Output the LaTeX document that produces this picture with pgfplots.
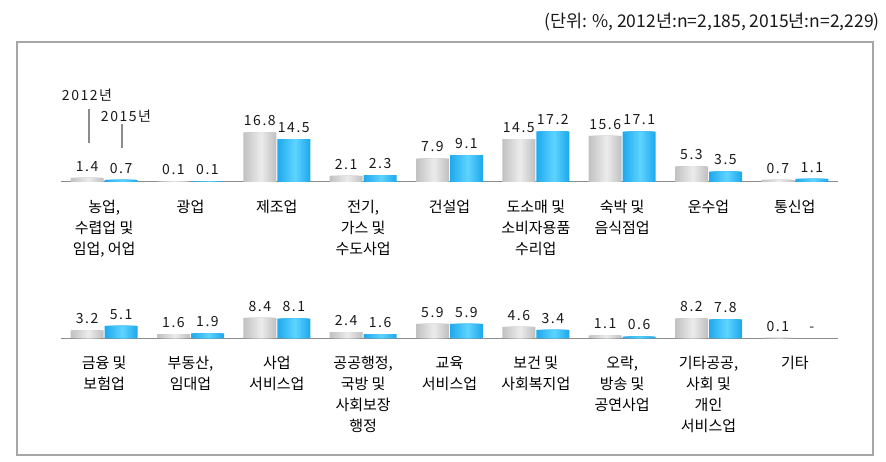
\documentclass[border=0pt]{standalone}
\usepackage{fontspec}
\setmainfont{Noto Sans CJK KR}
\newfontfamily\numfont[LetterSpace=11]{Noto Sans CJK KR}
\usepackage{pgfplots}
\usepackage{pgfplotstable}
\pgfplotsset{compat=1.18}

\definecolor{boxgray}{HTML}{A6A6A6}
\definecolor{axgray}{HTML}{8C8C8C}
\definecolor{gE}{HTML}{C2C2C2}
\definecolor{gM}{HTML}{EAEAEA}
\definecolor{bE}{HTML}{20AAEE}
\definecolor{bM}{HTML}{5CD2FF}
% nested bars: outer edge colour towards the light middle
\colorlet{g0}{gE}\colorlet{g1}{gM!10!gE}\colorlet{g2}{gM!20!gE}\colorlet{g3}{gM!30!gE}
\colorlet{g4}{gM!40!gE}\colorlet{g5}{gM!50!gE}\colorlet{g6}{gM!60!gE}\colorlet{g7}{gM!70!gE}
\colorlet{g8}{gM!80!gE}\colorlet{g9}{gM!90!gE}\colorlet{g10}{gM}
\colorlet{b0}{bE}\colorlet{b1}{bM!10!bE}\colorlet{b2}{bM!20!bE}\colorlet{b3}{bM!30!bE}
\colorlet{b4}{bM!40!bE}\colorlet{b5}{bM!50!bE}\colorlet{b6}{bM!60!bE}\colorlet{b7}{bM!70!bE}
\colorlet{b8}{bM!80!bE}\colorlet{b9}{bM!90!bE}\colorlet{b10}{bM}

% x  2012  2015  labels
\pgfplotstableread{
x a    b    la   lb
0 1.4  0.7  1.4  0.7
1 0.1  0.1  0.1  0.1
2 16.8 14.5 16.8 14.5
3 2.1  2.3  2.1  2.3
4 7.9  9.1  7.9  9.1
5 14.5 17.2 14.5 17.2
6 15.6 17.1 15.6 17.1
7 5.3  3.5  5.3  3.5
8 0.7  1.1  0.7  1.1
}\rowA
\pgfplotstableread{
x a    b    la   lb
0 3.2  5.1  3.2  5.1
1 1.6  1.9  1.6  1.9
2 8.4  8.1  8.4  8.1
3 2.4  1.6  2.4  1.6
4 5.9  5.9  5.9  5.9
5 4.6  3.4  4.6  3.4
6 1.1  0.6  1.1  0.6
7 8.2  7.8  8.2  7.8
8 0.1  0    0.1  -
}\rowB

\pgfplotsset{
  rowaxis/.style={
    scale only axis, width=777pt,
    ybar, bar width=33pt,
    xmin=-0.5, xmax=8.5, ymin=0,
    axis x line*=bottom, axis y line=none,
    x axis line style={-, axgray, line width=1pt},
    xtick={0,...,8}, major tick length=0pt,
    xticklabel style={align=center, font=\fontsize{15}{21}\selectfont, yshift=-15pt},
    clip=false,
  },
  vals/.style={draw=none, fill=none, bar width=33pt, point meta=explicit symbolic,
    nodes near coords,
    every node near coord/.append style={font=\numfont\fontsize{14}{16}\selectfont, yshift=3pt, text=black!90}},
  gb/.style={draw=none, forget plot, unbounded coords=discard, y filter/.expression={y==0 ? nan : y}},
}
% #1 table, #2 column, #3 colour prefix, #4 bar centre
\newcommand\gradbar[4]{%
  \addplot[gb, fill=#30, bar width=33pt, bar shift={#4}] table[x=x,y=#2]{#1};
  \addplot[gb, fill=#31, bar width=30pt, bar shift={#4+0.15pt}] table[x=x,y=#2]{#1};
  \addplot[gb, fill=#32, bar width=27pt, bar shift={#4+0.3pt}] table[x=x,y=#2]{#1};
  \addplot[gb, fill=#33, bar width=24pt, bar shift={#4+0.45pt}] table[x=x,y=#2]{#1};
  \addplot[gb, fill=#34, bar width=21pt, bar shift={#4+0.6pt}] table[x=x,y=#2]{#1};
  \addplot[gb, fill=#35, bar width=18pt, bar shift={#4+0.75pt}] table[x=x,y=#2]{#1};
  \addplot[gb, fill=#36, bar width=15pt, bar shift={#4+0.9pt}] table[x=x,y=#2]{#1};
  \addplot[gb, fill=#37, bar width=12pt, bar shift={#4+1.05pt}] table[x=x,y=#2]{#1};
  \addplot[gb, fill=#38, bar width=9pt, bar shift={#4+1.2pt}] table[x=x,y=#2]{#1};
  \addplot[gb, fill=#39, bar width=6pt, bar shift={#4+1.35pt}] table[x=x,y=#2]{#1};
  \addplot[gb, fill=#310, bar width=3pt, bar shift={#4+1.5pt}] table[x=x,y=#2]{#1};
}

\begin{document}
\begin{tikzpicture}
\useasboundingbox (0pt,0pt) rectangle (886pt,-462pt);
\draw[boxgray, line width=1.2pt] (17pt,-42pt) rectangle (873pt,-455pt);
\node[anchor=east, font=\fontsize{17.5}{19}\selectfont, inner sep=0pt, text=black!90] at (880pt,-22pt)
  {(단위: \%, 2012년:n=2,185, 2015년:n=2,229)};

% row 1
\begin{axis}[rowaxis, at={(61pt,-182pt)}, anchor=south west, height=59pt, ymax=20,
  xticklabels={{농업,\\수렵업 및\\임업, 어업},광업,제조업,{전기,\\가스 및\\수도사업},건설업,
    {도소매 및\\소비자용품\\수리업},{숙박 및\\음식점업},운수업,통신업}]
\gradbar{\rowA}{a}{g}{-17pt}
\gradbar{\rowA}{b}{b}{17pt}
\addplot[vals, bar shift=-17pt] table[x=x,y=a,meta=la]{\rowA};
\addplot[vals, bar shift=17pt] table[x=x,y=b,meta=lb]{\rowA};
\end{axis}

% row 2
\begin{axis}[rowaxis, at={(61pt,-338pt)}, anchor=south west, height=48pt, ymax=20,
  xticklabels={{금융 및\\보험업},{부동산,\\임대업},{사업\\서비스업},{공공행정,\\국방 및\\사회보장\\행정},
    {교육\\서비스업},{보건 및\\사회복지업},{오락,\\방송 및\\공연사업},{기타공공,\\사회 및\\개인\\서비스업},기타}]
\gradbar{\rowB}{a}{g}{-17pt}
\gradbar{\rowB}{b}{b}{17pt}
\addplot[vals, bar shift=-17pt] table[x=x,y=a,meta=la]{\rowB};
\addplot[vals, bar shift=17pt] table[x=x,y=b,meta=lb]{\rowB};
\end{axis}

% series annotation
\node[font=\numfont\fontsize{14}{16}\selectfont, text=black!90, inner sep=0pt] at (87pt,-95pt) {2012년};
\node[font=\numfont\fontsize{14}{16}\selectfont, text=black!90, inner sep=0pt] at (126pt,-116pt) {2015년};
\draw[axgray, line width=2pt] (89pt,-109pt) -- (89pt,-143pt);
\draw[axgray, line width=1.2pt] (122pt,-124pt) -- (122pt,-148pt);
\end{tikzpicture}
\end{document}
